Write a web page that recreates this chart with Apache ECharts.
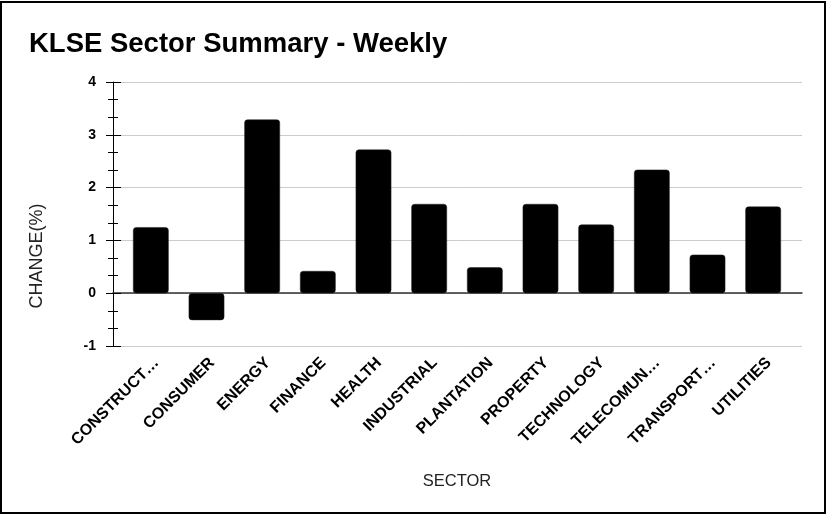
<!DOCTYPE html>
<html>
<head>
<meta charset="utf-8">
<script src="https://cdn.jsdelivr.net/npm/echarts@6/dist/echarts.min.js"></script>
<style>
html,body{margin:0;padding:0;background:#fff;}
#chart{width:831px;height:516px;}
</style>
</head>
<body>
<div id="chart"></div>
<script>
const categories = ["CONSTRUCTION","CONSUMER","ENERGY","FINANCE","HEALTH","INDUSTRIAL","PLANTATION","PROPERTY","TECHNOLOGY","TELECOMUNICATIONS & MEDIA","TRANSPORTATION & LOGISTICS","UTILITIES"];
const changes = [1.25, -0.51, 3.29, 0.42, 2.72, 1.69, 0.49, 1.69, 1.30, 2.34, 0.73, 1.64];
const titleText = "KLSE Sector Summary - Weekly";
const xAxisName = "SECTOR";
const yAxisName = "CHANGE(%)";
const yMin = -1, yMax = 4, yStep = 1;

const FONT = 'Arial, "Liberation Sans", sans-serif';
const chart = echarts.init(document.getElementById('chart'), null, {renderer:'canvas'});
chart.setOption({
  animation:false,
  backgroundColor:'#fff',
  textStyle:{fontFamily:FONT},
  title:{text:titleText,left:24,top:25,textStyle:{fontFamily:FONT,fontSize:27.5,fontWeight:'bold',color:'#000'}},
  grid:[
    {left:113,right:29,top:82,bottom:170,containLabel:false},
    {left:123,right:40,top:82,bottom:170,containLabel:false}
  ],
  graphic:[
    {type:'rect',shape:{x:1,y:2,width:824,height:511},style:{fill:'none',stroke:'#000',lineWidth:2},silent:true,z:100},
    {type:'text',x:37,y:256,rotation:Math.PI/2,style:{text:yAxisName,font:'18px '+FONT,fill:'#222',align:'center',verticalAlign:'middle'}}
  ],
  xAxis:[{
    gridIndex:0,type:'category',data:categories,
    axisLine:{show:true,onZero:true,onZeroAxisIndex:0,lineStyle:{color:'#333',width:1.5}},
    axisTick:{show:false},axisLabel:{show:false},splitLine:{show:false}
  },{
    gridIndex:1,type:'category',data:categories,
    name:xAxisName,nameLocation:'middle',nameGap:127,
    nameTextStyle:{fontFamily:FONT,fontSize:16.5,color:'#222'},
    axisLine:{show:false},
    axisTick:{show:false},
    axisLabel:{interval:0,rotate:45,margin:20,padding:[0,-8,0,0],fontFamily:FONT,fontSize:16,fontWeight:'bold',color:'#000',
      formatter:function(v){return v.length>10? v.slice(0,9)+'…' : v;}}
  }],
  yAxis:[{
    gridIndex:0,type:'value',min:yMin,max:yMax,interval:yStep,position:'left',
    axisLine:{show:true,lineStyle:{color:'#000',width:1}},
    axisTick:{show:true,length:7,lineStyle:{color:'#000'}},
    minorTick:{show:true,splitNumber:3,length:5,lineStyle:{color:'#000'}},
    axisLabel:{margin:17,fontFamily:FONT,fontSize:14,fontWeight:'bold',color:'#000'},
    splitLine:{show:true,lineStyle:{color:'#ccc',width:1}}
  },{
    gridIndex:0,type:'value',min:yMin,max:yMax,interval:yStep,position:'left',offset:0,
    axisLine:{show:false},
    axisTick:{show:true,inside:true,length:8,lineStyle:{color:'#000'}},
    minorTick:{show:true,splitNumber:3,length:5,lineStyle:{color:'#000'}},
    axisLabel:{show:false},
    splitLine:{show:false}
  },{
    gridIndex:1,type:'value',min:yMin,max:yMax,interval:yStep,
    show:false
  }],
  series:[{
    type:'bar',data:changes,xAxisIndex:1,yAxisIndex:2,barWidth:'64%',
    itemStyle:{color:'#000',borderRadius:3,borderColor:'#222',borderWidth:0.5}
  }]
});
</script>
</body>
</html>
